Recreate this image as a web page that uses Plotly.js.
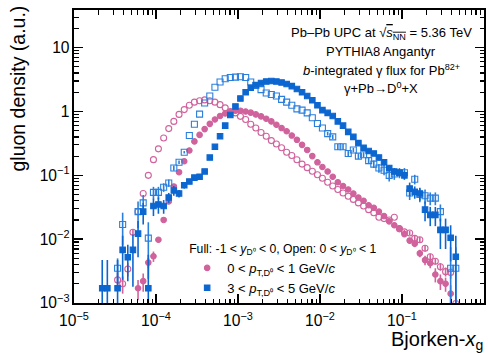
<!DOCTYPE html>
<html>
<head>
<meta charset="utf-8">
<script src="https://cdn.plot.ly/plotly-3.0.1.min.js"></script>
<style>html,body{margin:0;padding:0;background:#fff;}#chart{width:488px;height:353px;}</style>
</head>
<body>
<div id="chart"></div>
<script>
// Bjorken-x bin centres (16 log bins per decade), index 0..75
const xg = [
 1.07e-5,1.24e-5,1.43e-5,1.65e-5,1.91e-5,2.21e-5,2.55e-5,2.94e-5,3.40e-5,3.92e-5,4.53e-5,5.23e-5,6.04e-5,6.98e-5,8.06e-5,9.31e-5,
 1.07e-4,1.24e-4,1.43e-4,1.65e-4,1.91e-4,2.21e-4,2.55e-4,2.94e-4,3.40e-4,3.92e-4,4.53e-4,5.23e-4,6.04e-4,6.98e-4,8.06e-4,9.31e-4,
 1.07e-3,1.24e-3,1.43e-3,1.65e-3,1.91e-3,2.21e-3,2.55e-3,2.94e-3,3.40e-3,3.92e-3,4.53e-3,5.23e-3,6.04e-3,6.98e-3,8.06e-3,9.31e-3,
 1.07e-2,1.24e-2,1.43e-2,1.65e-2,1.91e-2,2.21e-2,2.55e-2,2.94e-2,3.40e-2,3.92e-2,4.53e-2,5.23e-2,6.04e-2,6.98e-2,8.06e-2,9.31e-2,
 1.07e-1,1.24e-1,1.43e-1,1.65e-1,1.91e-1,2.21e-1,2.55e-1,2.94e-1,3.40e-1,3.92e-1,4.53e-1,5.23e-1
];

// 0 < pT < 1 GeV/c, open (0 < y < 1)
const pinkOpen = [
 null,null,null,null,null,null,null,null,0.0023,0.0020,0.0034,0.0128,0.027,0.052,0.10,0.176,
 0.26,0.385,0.54,0.70,0.90,1.07,1.25,1.40,1.47,1.52,1.47,1.40,1.28,1.14,1.0,0.95,
 0.84,0.75,0.63,0.55,0.47,0.41,0.35,0.31,0.27,0.23,0.205,0.175,0.15,0.132,0.116,0.102,
 0.090,0.078,0.068,0.060,0.053,0.047,0.042,0.037,0.033,0.029,0.026,0.022,0.021,0.020,0.022,0.0145,
 0.013,0.0125,0.0103,0.0098,0.0072,0.0053,0.0045,0.0037,0.0031,0.0030,0.00098,null
];
const pinkOpenErr = [
 0,0,0,0,0,0,0,0,0.0007,0.0006,0.0008,0.0015,0,0,0,0,
 0,0,0,0,0,0,0,0,0,0,0,0,0,0,0,0,
 0,0,0,0,0,0,0,0,0,0,0,0,0,0,0,0,
 0,0,0,0,0,0,0,0,0,0,0,0,0,0,0,0.001,
 0.001,0.001,0.001,0.001,0.0008,0.0006,0.0005,0.0005,0.0005,0.0006,0.0003,0
];

// 0 < pT < 1 GeV/c, full (-1 < y < 0)
const pinkFull = [
 null,null,null,null,null,null,null,null,null,null,null,null,0.0017,0.0022,0.0043,0.0054,
 0.0098,0.020,0.039,0.067,0.112,0.166,0.245,0.34,0.43,0.53,0.64,0.75,0.85,0.93,0.99,1.03,
 1.03,1.0,0.96,0.90,0.84,0.77,0.70,0.62,0.55,0.49,0.42,0.36,0.30,0.25,0.20,0.16,
 0.135,0.115,0.095,0.078,0.068,0.060,0.052,0.045,0.040,0.034,0.031,0.027,0.023,0.019,0.0165,0.0148,
 0.012,0.0095,0.0085,0.0060,0.0047,0.0042,0.0028,0.0022,0.0020,0.0014,null,null
];
const pinkFullErr = [
 0,0,0,0,0,0,0,0,0,0,0,0,0.0006,0.0007,0.0008,0.001,
 0,0,0,0,0,0,0,0,0,0,0,0,0,0,0,0,
 0,0,0,0,0,0,0,0,0,0,0,0,0,0,0,0,
 0,0,0,0,0,0,0,0,0,0,0,0,0,0,0,0.001,
 0.001,0.001,0.001,0.0008,0.0008,0.0007,0.0007,0.0006,0.0005,0.0005,0,0
];

// 3 < pT < 5 GeV/c, open (0 < y < 1)
const blueOpen = [
 null,null,null,null,null,null,null,null,0.0035,0.017,null,null,0.027,0.037,0.0104,0.054,
 0.054,0.065,0.076,0.13,0.16,0.23,0.42,0.63,0.91,1.36,1.75,2.4,2.9,3.25,3.4,3.45,
 3.5,3.4,2.9,2.55,2.2,1.95,1.85,1.75,1.55,1.4,1.25,1.1,1.05,0.95,0.8,0.65,
 0.55,0.45,0.40,0.28,0.28,0.22,0.25,0.20,0.21,0.17,0.15,0.13,0.12,0.10,0.105,0.11,
 0.11,0.053,0.087,0.050,0.048,0.044,0.044,0.027,null,0.0035,0.0035,null
];
const blueOpenErr = [
 0,0,0,0,0,0,0,0,0.0015,0.009,0,0,0.012,0.012,0.008,0.012,
 0.012,0.01,0.01,0.012,0.01,0.01,0,0,0,0,0,0,0,0,0,0,
 0,0,0,0,0,0,0,0,0,0,0,0,0,0,0,0,
 0,0.03,0.03,0.03,0.03,0.02,0.02,0.02,0.02,0.02,0.02,0.02,0.02,0.02,0.02,0.02,
 0.02,0.012,0.015,0.012,0.012,0.01,0.01,0.008,0,0.004,0.004,0
];

// 3 < pT < 5 GeV/c, full (-1 < y < 0)
const blueFull = [
 null,null,null,null,null,0.0017,0.0017,null,0.0017,0.0068,0.0052,0.0068,0.0122,0.027,0.0017,0.033,
 0.035,0.033,0.045,0.058,0.052,0.070,0.080,0.092,0.095,0.115,0.19,0.28,0.41,0.60,0.88,1.2,
 1.6,2.0,2.35,2.6,2.8,2.95,3.0,2.95,2.85,2.7,2.5,2.25,2.0,1.75,1.5,1.25,
 1.05,0.95,0.85,0.70,0.60,0.48,0.40,0.32,0.27,0.24,0.22,0.19,0.16,0.13,0.115,0.11,
 0.10,0.062,0.055,0.052,0.029,0.024,0.024,0.014,0.014,0.0105,0.0053,null
];
const blueFullErr = [
 0,0,0,0,0,0.003,0.003,0,0.003,0.0045,0.003,0.005,0.007,0.01,0.004,0.01,
 0.01,0.008,0.008,0.01,0.007,0.008,0.007,0.008,0.008,0,0,0,0,0,0,0,
 0,0,0,0,0,0,0,0,0,0,0,0,0,0,0,0,
 0,0,0,0,0,0.03,0.03,0.025,0.025,0.02,0.02,0.02,0.02,0.015,0.015,0.015,
 0.015,0.015,0.012,0.012,0.01,0.008,0.008,0.007,0.007,0.006,0.006,0
];

const PINK = '#d0629c';
const BLUE = '#0c66d0';
const BLUE_OPEN = '#2a7fdc';
const FONT = 'Liberation Sans, Arial, Helvetica, sans-serif';

function tr(y, err, color, symbol, name, show, rank) {
  return {
    type: 'scatter', mode: 'markers', x: xg, y: y, name: name,
    showlegend: show, legendrank: rank,
    marker: {color: color, symbol: symbol, size: symbol.indexOf('open') >= 0 ? 6 : 5.5,
             line: {color: color, width: 1.1}},
    error_y: {type: 'data', array: err, visible: true, color: color, thickness: 1.6, width: 0},
    hoverinfo: 'skip'
  };
}

const data = [
  tr(pinkOpen, pinkOpenErr, PINK, 'circle-open', 'pink open', false, 10),
  tr(pinkFull, pinkFullErr, PINK, 'circle', '0 &lt; <i>p</i><sub>T,D⁰</sub> &lt; 1 GeV/<i>c</i>', true, 1),
  tr(blueOpen, blueOpenErr, BLUE_OPEN, 'square-open', 'blue open', false, 11),
  tr(blueFull, blueFullErr, BLUE, 'square', '3 &lt; <i>p</i><sub>T,D⁰</sub> &lt; 5 GeV/<i>c</i>', true, 2)
];

const axisCommon = {
  type: 'log', dtick: 1, exponentformat: 'power',
  showline: true, linecolor: '#000', linewidth: 2, mirror: 'allticks',
  ticks: 'inside', ticklen: 9, tickwidth: 1.5, tickcolor: '#000',
  minor: {dtick: 'D1', ticks: 'inside', ticklen: 4.5, tickwidth: 1.2, tickcolor: '#000', showgrid: false},
  showgrid: false, zeroline: false,
  tickfont: {family: FONT, size: 12.5, color: '#000'}
};

const layout = {
  width: 488, height: 353,
  margin: {l: 74, r: 4, t: 10, b: 50},
  paper_bgcolor: '#fff', plot_bgcolor: '#fff',
  font: {family: FONT, color: '#000'},
  xaxis: Object.assign({}, axisCommon, {range: [-5, 0], ticklabelstandoff: 3}),
  yaxis: Object.assign({}, axisCommon, {range: [-3, 1.59]}),
  showlegend: true,
  legend: {
    x: 0.276, y: 0.225, xanchor: 'left', yanchor: 'top',
    bgcolor: 'rgba(0,0,0,0)', borderwidth: 0,
    font: {family: FONT, size: 13, color: '#000'},
    title: {text: 'Full: -1 &lt; <i>y</i><sub>D⁰</sub> &lt; 0, Open: 0 &lt; <i>y</i><sub>D⁰</sub> &lt; 1',
            font: {family: FONT, size: 12.2, color: '#000'}},
    traceorder: 'normal', tracegroupgap: 0, itemwidth: 30
  },
  annotations: [
    {xref: 'paper', yref: 'paper', x: 0.749, y: 0.9215, xanchor: 'center', yanchor: 'middle', showarrow: false,
     text: 'Pb–Pb UPC at √<span style="text-decoration:overline"><i>s</i><sub>NN</sub></span> = 5.36 TeV',
     font: {family: FONT, size: 13, color: '#000'}},
    {xref: 'paper', yref: 'paper', x: 0.749, y: 0.8567, xanchor: 'center', yanchor: 'middle', showarrow: false,
     text: 'PYTHIA8 Angantyr', font: {family: FONT, size: 13, color: '#000'}},
    {xref: 'paper', yref: 'paper', x: 0.749, y: 0.7952, xanchor: 'center', yanchor: 'middle', showarrow: false,
     text: '<i>b</i>-integrated γ flux for Pb<sup>82+</sup>', font: {family: FONT, size: 13, color: '#000'}},
    {xref: 'paper', yref: 'paper', x: 0.749, y: 0.7338, xanchor: 'center', yanchor: 'middle', showarrow: false,
     text: 'γ+Pb→D<sup>0</sup>+X', font: {family: FONT, size: 13, color: '#000'}},
    {xref: 'paper', yref: 'paper', x: -0.1366, y: 0.732, xanchor: 'center', yanchor: 'middle', showarrow: false,
     textangle: -90, text: 'gluon density (a.u.)', font: {family: FONT, size: 19.5, color: '#000'}},
    {xref: 'paper', yref: 'paper', x: 1.003, y: -0.128, xanchor: 'right', yanchor: 'middle', showarrow: false,
     text: 'Bjorken-<i>x</i><sub>g</sub>', font: {family: FONT, size: 20, color: '#000'}}
  ]
};

Plotly.newPlot('chart', data, layout, {staticPlot: true, displayModeBar: false});
</script>
</body>
</html>
